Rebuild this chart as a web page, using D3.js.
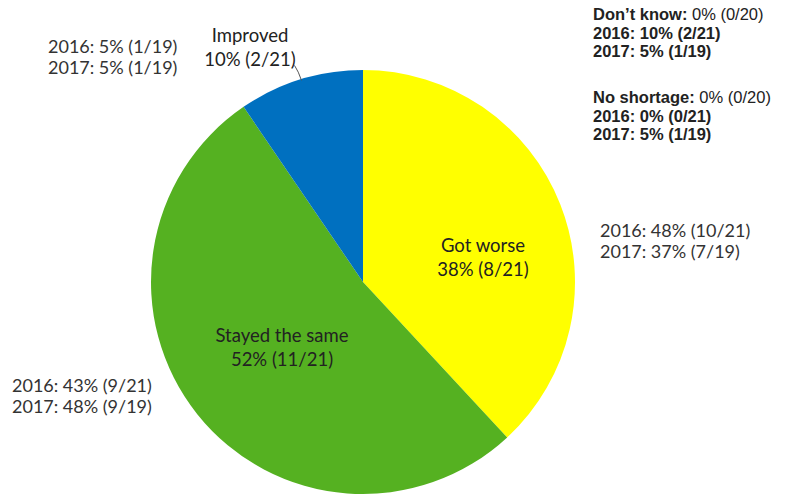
<!DOCTYPE html>
<html>
<head>
<meta charset="utf-8">
<script src="https://cdn.jsdelivr.net/npm/d3@7"></script>
<style>
  body { margin: 0; background: #fff; }
  .lbl { font-family: Lato, "Open Sans", sans-serif; font-size: 18.5px; fill: #222; }
  .side { font-family: Lato, "Open Sans", sans-serif; font-size: 18px; fill: #333; }
  .note { font-family: "Liberation Sans", Arial, sans-serif; font-size: 16.5px; fill: #222; }
</style>
</head>
<body>
<div id="chart"></div>
<script>
let categories = ["Got worse", "Stayed the same", "Improved"];
let counts = [8, 11, 2];
let percents = ["38%", "52%", "10%"];
let total = 21;
let colors = ["#ffff00", "#55b121", "#0070c0"];

// previous years, shown beside each slice
let prev2016 = ["48% (10/21)", "43% (9/21)", "5% (1/19)"];
let prev2017 = ["37% (7/19)", "48% (9/19)", "5% (1/19)"];

// categories with no answers this year
let emptyCats = ["Don\u2019t know", "No shortage"];
let emptyNow = ["0% (0/20)", "0% (0/20)"];
let empty2016 = ["10% (2/21)", "0% (0/21)"];
let empty2017 = ["5% (1/19)", "5% (1/19)"];

let width = 788, height = 497;
let cx = 363, cy = 282, radius = 212;

let svg = d3.select("#chart")
    .append("svg")
    .attr("width", width)
    .attr("height", height);

let g = svg.append("g")
    .attr("transform", `translate(${cx}, ${cy})`);

let pie = d3.pie().sort(null).value(function(d) { return d; });
let arc = d3.arc().innerRadius(0).outerRadius(radius);
let data_ready = pie(counts);

g.selectAll("path")
    .data(data_ready)
    .enter()
    .append("path")
    .attr("d", arc)
    .attr("fill", function(d, i) { return colors[i]; });

// label spots (relative to pie centre) for the in-pie / outside labels
let labelPos = [[120, -30], [-81, 60], [-113, -240]];
let sidePos = [[237, -45], [-351, 110], [-315, -229]];

categories.forEach(function(c, i) {
    let t = g.append("text")
        .attr("class", "lbl")
        .attr("text-anchor", "middle")
        .attr("transform", `translate(${labelPos[i][0]}, ${labelPos[i][1]})`);
    t.append("tspan").attr("x", 0).attr("dy", 0).text(c);
    t.append("tspan").attr("x", 0).attr("dy", 24)
        .text(`${percents[i]} (${counts[i]}/${total})`);

    let s = g.append("text")
        .attr("class", "side")
        .attr("transform", `translate(${sidePos[i][0]}, ${sidePos[i][1]})`);
    s.append("tspan").attr("x", 0).attr("dy", 0).text(`2016: ${prev2016[i]}`);
    s.append("tspan").attr("x", 0).attr("dy", 21).text(`2017: ${prev2017[i]}`);
});

// leader line from the "Improved" label to its slice
let mid = (data_ready[2].startAngle + data_ready[2].endAngle) / 2;
let edge = [Math.sin(mid) * radius, -Math.cos(mid) * radius];
g.append("path")
    .attr("d", `M${edge[0] - 6},${edge[1] - 14} Q${edge[0] - 2},${edge[1] - 8} ${edge[0] + 1},${edge[1] + 1}`)
    .attr("fill", "none")
    .attr("stroke", "#555")
    .attr("stroke-width", 1);

// notes for empty categories, top right
emptyCats.forEach(function(c, i) {
    let y0 = 20 + i * 83;
    let n = svg.append("text").attr("class", "note").attr("x", 593).attr("y", y0);
    n.append("tspan").attr("font-weight", 700).text(c + ":");
    n.append("tspan").text(" " + emptyNow[i]);
    svg.append("text").attr("class", "note").attr("font-weight", 700)
        .attr("x", 593).attr("y", y0 + 18.5).text(`2016: ${empty2016[i]}`);
    svg.append("text").attr("class", "note").attr("font-weight", 700)
        .attr("x", 593).attr("y", y0 + 37).text(`2017: ${empty2017[i]}`);
});
</script>
</body>
</html>
